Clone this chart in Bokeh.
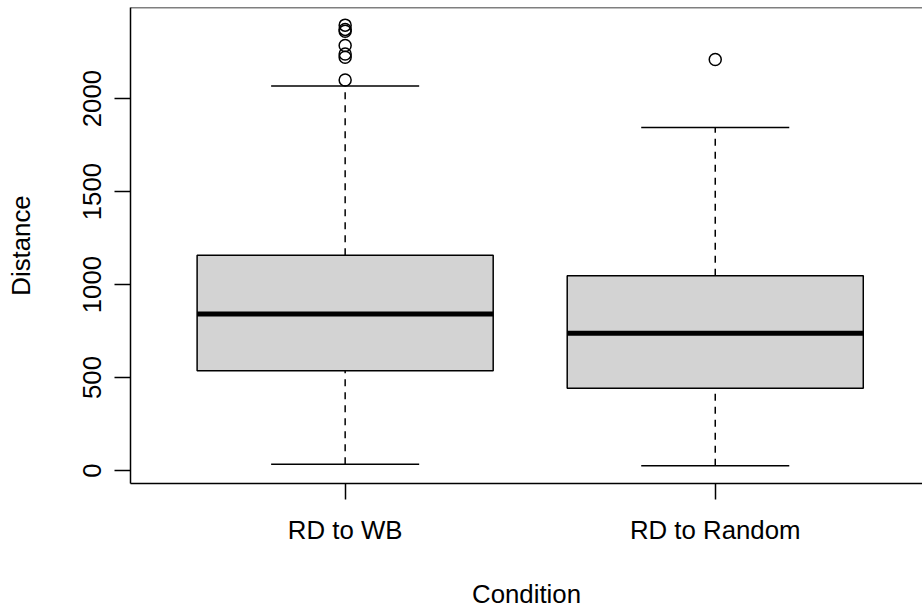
from bokeh.plotting import figure
from bokeh.models import Range1d, FixedTicker, Span, ColumnDataSource
from bokeh.embed import file_html
from bokeh.resources import INLINE

# ---- data ----
categories = ["RD to WB", "RD to Random"]
whisker_low = [34, 25]
q1 = [536, 443]
median = [842, 738]
q3 = [1157, 1047]
whisker_high = [2068, 1845]
outlier_cat = ["RD to WB"] * 7 + ["RD to Random"]
outlier_val = [2395, 2372, 2362, 2285, 2240, 2222, 2100, 2210]

xs = [i + 1 for i in range(len(categories))]
box_w = 0.8
cap_w = 0.4
ox = [categories.index(c) + 1 for c in outlier_cat]

allv = whisker_low + whisker_high + outlier_val
lo, hi = min(allv), max(allv)
span = hi - lo

FONT = "Liberation Sans"
FS = "25.8px"

p = figure(width=922, height=610, output_backend="svg", toolbar_location=None,
           x_range=Range1d(0.42, 2.56),
           y_range=Range1d(lo - 0.04 * span, hi + 0.04 * span),
           min_border_left=130, min_border_right=0, min_border_top=7,
           min_border_bottom=126)
p.outline_line_color = None
p.xgrid.visible = False
p.ygrid.visible = False
p.background_fill_color = "white"
p.border_fill_color = "white"

src = ColumnDataSource(dict(
    x=xs, lo=whisker_low, q1=q1, med=median, q3=q3, hi=whisker_high,
    x0=[x - box_w / 2 for x in xs], x1=[x + box_w / 2 for x in xs],
    c0=[x - cap_w / 2 for x in xs], c1=[x + cap_w / 2 for x in xs],
))

# whiskers (dashed)
p.segment(x0="x", y0="q3", x1="x", y1="hi", source=src, line_color="black",
          line_width=1.5, line_dash="7 6")
p.segment(x0="x", y0="lo", x1="x", y1="q1", source=src, line_color="black",
          line_width=1.5, line_dash="7 6")
# caps
p.segment(x0="c0", y0="hi", x1="c1", y1="hi", source=src, line_color="black", line_width=1.5)
p.segment(x0="c0", y0="lo", x1="c1", y1="lo", source=src, line_color="black", line_width=1.5)
# boxes
p.vbar(x="x", width=box_w, bottom="q1", top="q3", source=src,
       fill_color="#d3d3d3", line_color="black", line_width=1.5)
# median
p.segment(x0="x0", y0="med", x1="x1", y1="med", source=src, line_color="black",
          line_width=5)
# outliers
p.scatter(ox, outlier_val, marker="circle", size=12, fill_color=None,
          line_color="black", line_width=1.5)

# top border
p.add_layout(Span(location=p.y_range.end, dimension="width", line_color="black",
                  line_width=1.5))

# axes
for ax in (p.xaxis[0], p.yaxis[0]):
    ax.axis_line_color = "black"
    ax.axis_line_width = 1.5
    ax.major_tick_line_color = "black"
    ax.major_tick_line_width = 1.5
    ax.major_tick_in = 0
    ax.major_tick_out = 16
    ax.minor_tick_line_color = None
    ax.major_label_text_font = FONT
    ax.major_label_text_font_size = FS
    ax.major_label_text_color = "black"
    ax.axis_label_text_font = FONT
    ax.axis_label_text_font_size = FS
    ax.axis_label_text_font_style = "normal"
    ax.axis_label_text_color = "black"

p.xaxis.ticker = FixedTicker(ticks=xs)
p.xaxis.major_label_overrides = {x: c for x, c in zip(xs, categories)}
p.xaxis.axis_label = "Condition"
p.xaxis.major_label_standoff = 16
p.xaxis.axis_label_standoff = 33

p.yaxis.ticker = FixedTicker(ticks=[0, 500, 1000, 1500, 2000])
p.yaxis.major_label_orientation = "vertical"
p.yaxis.axis_label = "Distance"
p.yaxis.major_label_standoff = 13
p.yaxis.axis_label_standoff = 46

open("out.html", "w").write(file_html(p, INLINE))
